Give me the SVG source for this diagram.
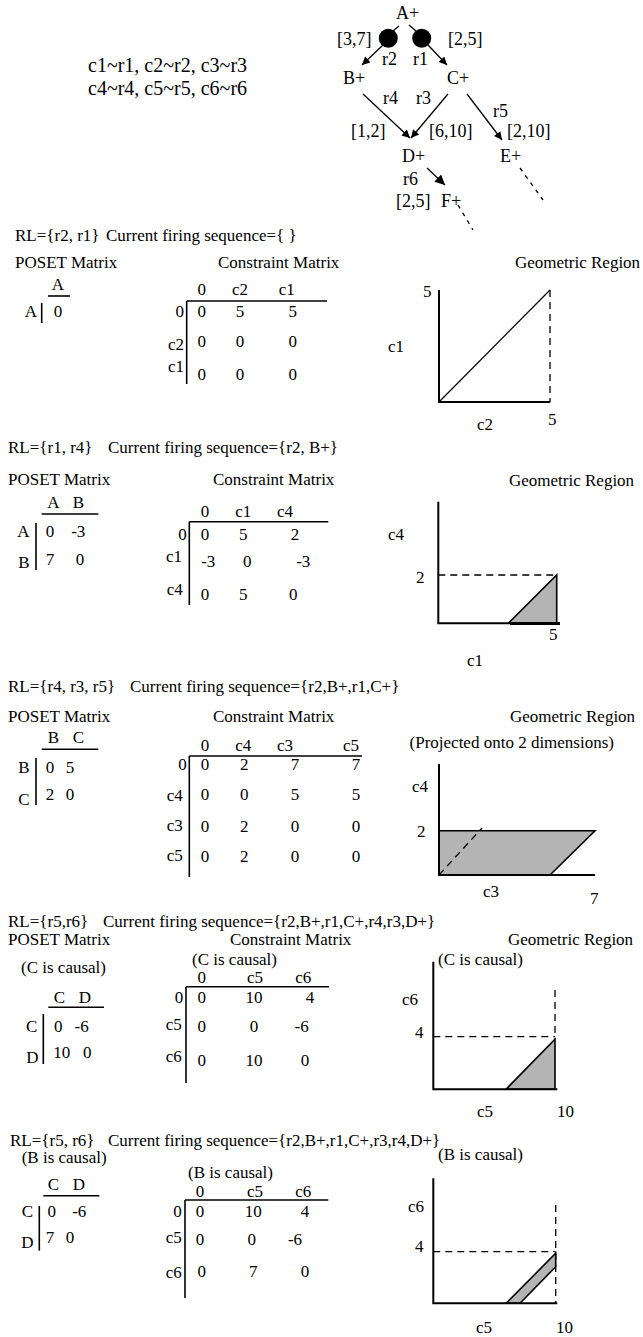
<svg xmlns="http://www.w3.org/2000/svg" width="643" height="1337" viewBox="0 0 643 1337">
<style>
text{font-family:"Liberation Serif","Times New Roman",serif;font-size:17px;fill:#000}
.g{font-size:18px}
.big{font-size:20px}
.m{text-anchor:middle}
.e{text-anchor:end}
.ln{stroke:#000;stroke-width:1.6;fill:none}
.ax{stroke:#000;stroke-width:2;fill:none}
.th{stroke:#000;stroke-width:1.2;fill:none}
.da{stroke:#000;stroke-width:1.3;fill:none;stroke-dasharray:7 5}
.reg{fill:#b4b4b4;stroke:#000;stroke-width:1.6}
.cn{stroke:#000;stroke-width:1.3;fill:none}
.cd{stroke:#000;stroke-width:1.3;fill:none;stroke-dasharray:4 5}
</style>
<defs>
<marker id="ah" viewBox="0 0 10 10" refX="10" refY="5" markerWidth="10" markerHeight="8" orient="auto" markerUnits="userSpaceOnUse"><path d="M0,0 L10,5 L0,10 z" fill="#000"/></marker>
<marker id="ahb" viewBox="0 0 10 10" refX="10" refY="5" markerWidth="14" markerHeight="10" orient="auto" markerUnits="userSpaceOnUse"><path d="M0,0 L10,5 L0,10 z" fill="#000"/></marker>
</defs>
<rect width="643" height="1337" fill="#fff"/>

<!-- legend -->
<text class="big" x="88" y="72">c1~r1, c2~r2, c3~r3</text>
<text class="big" x="88" y="95">c4~r4, c5~r5, c6~r6</text>

<!-- graph connectors -->
<g id="connectors">
<line class="cn" x1="399" y1="26" x2="393" y2="31"/>
<line class="cn" x1="409" y1="25" x2="416" y2="31"/>
<line class="cn" x1="383" y1="45" x2="362" y2="65" marker-end="url(#ah)"/>
<line class="cn" x1="428" y1="45" x2="447" y2="65" marker-end="url(#ah)"/>
<line class="cn" x1="363" y1="94" x2="410" y2="138" marker-end="url(#ah)"/>
<line class="cn" x1="448" y1="94" x2="411" y2="138" marker-end="url(#ah)"/>
<line class="cn" x1="467" y1="94" x2="502" y2="140" marker-end="url(#ah)"/>
<line class="cn" x1="427" y1="168" x2="445" y2="185" marker-end="url(#ahb)"/>
<line class="cd" x1="458" y1="205" x2="473" y2="230"/>
<line class="cd" x1="520" y1="168" x2="543" y2="200"/>
<text class="g" x="382" y="65">r2</text>
<text class="g" x="413" y="65">r1</text>
<text class="g" x="337" y="45">[3,7]</text>
<text class="g" x="448" y="45">[2,5]</text>
<text class="g" x="383" y="104">r4</text>
<text class="g" x="416" y="104">r3</text>
<text class="g" x="493" y="117">r5</text>
<text class="g" x="351" y="137">[1,2]</text>
<text class="g" x="429" y="137">[6,10]</text>
<text class="g" x="507" y="137">[2,10]</text>
<text class="g" x="403" y="185">r6</text>
<text class="g" x="396" y="207">[2,5]</text>
</g>
<g id="nA"><text class="g" x="396" y="19">A+</text></g>
<g id="dot1"><circle cx="388.3" cy="38.3" r="9.5" fill="#000"/></g>
<g id="dot2"><circle cx="421.7" cy="38.3" r="9.5" fill="#000"/></g>
<g id="nB"><text class="g" x="343" y="84">B+</text></g>
<g id="nC"><text class="g" x="447" y="84">C+</text></g>
<g id="nD"><text class="g" x="402" y="162">D+</text></g>
<g id="nE"><text class="g" x="500" y="162">E+</text></g>
<g id="nF"><text class="g" x="441" y="207">F+</text></g>

<!-- Section 1 -->
<g id="sec1">
<text x="15" y="241">RL={r2, r1}</text>
<text x="106" y="241">Current firing sequence={ }</text>
<text x="15" y="268">POSET Matrix</text>
<text x="218" y="268">Constraint Matrix</text>
<text x="515" y="268">Geometric Region</text>
<text class="m" x="58" y="290">A</text>
<line class="ln" x1="48" y1="296" x2="70" y2="296"/>
<text class="m" x="31" y="317">A</text>
<line class="ln" x1="41.7" y1="303" x2="41.7" y2="323"/>
<text class="m" x="58" y="317">0</text>
<text class="m" x="201.7" y="295">0</text>
<text class="m" x="240" y="295">c2</text>
<text class="m" x="286.7" y="295">c1</text>
<line class="ln" x1="186.7" y1="301" x2="327" y2="301"/>
<line class="ln" x1="186.7" y1="301" x2="186.7" y2="384"/>
<text class="e" x="184" y="317">0</text>
<text class="e" x="184" y="350">c2</text>
<text class="e" x="184" y="372">c1</text>
<text class="m" x="201.7" y="317">0</text><text class="m" x="240" y="317">5</text><text class="m" x="292.7" y="317">5</text>
<text class="m" x="201.7" y="347">0</text><text class="m" x="240" y="347">0</text><text class="m" x="292.7" y="347">0</text>
<text class="m" x="201.7" y="380">0</text><text class="m" x="240" y="380">0</text><text class="m" x="292.7" y="380">0</text>
<line class="th" x1="439" y1="402" x2="550" y2="290"/>
<line class="da" x1="550" y1="290" x2="550" y2="402"/>
<polyline class="ax" points="439,290 439,402 550,402"/>
<text x="423" y="297">5</text>
<text x="388" y="352">c1</text>
<text x="477" y="430">c2</text>
<text x="548" y="425">5</text>
</g>

<!-- Section 2 -->
<g id="sec2">
<text x="8" y="453">RL={r1, r4}</text>
<text x="108" y="453">Current firing sequence={r2, B+}</text>
<text x="8" y="485">POSET Matrix</text>
<text x="213" y="485">Constraint Matrix</text>
<text x="509" y="486">Geometric Region</text>
<text class="m" x="53.3" y="508">A</text><text class="m" x="78.3" y="508">B</text>
<line class="ln" x1="41.7" y1="514" x2="98.3" y2="514"/>
<text class="m" x="23.3" y="537">A</text>
<text class="m" x="24" y="568">B</text>
<line class="ln" x1="36" y1="523" x2="36" y2="570"/>
<text class="m" x="50" y="537">0</text><text class="m" x="78.3" y="537">-3</text>
<text class="m" x="50" y="565">7</text><text class="m" x="80" y="565">0</text>
<text class="m" x="205" y="517">0</text><text class="m" x="243.3" y="517">c1</text><text class="m" x="285" y="517">c4</text>
<line class="ln" x1="189.3" y1="521.7" x2="328.3" y2="521.7"/>
<line class="ln" x1="189.3" y1="521.7" x2="189.3" y2="605"/>
<text class="e" x="186.7" y="540">0</text>
<text class="e" x="182" y="562">c1</text>
<text class="e" x="182.7" y="595">c4</text>
<text class="m" x="205" y="540">0</text><text class="m" x="243.3" y="540">5</text><text class="m" x="295" y="540">2</text>
<text class="m" x="208.3" y="567">-3</text><text class="m" x="247.3" y="567">0</text><text class="m" x="303.3" y="567">-3</text>
<text class="m" x="205" y="600">0</text><text class="m" x="243.3" y="600">5</text><text class="m" x="293.3" y="600">0</text>
<polygon class="reg" points="508.3,623.3 556.7,575 556.7,623.3"/>
<line class="da" x1="438.3" y1="575" x2="556.7" y2="575"/>
<polyline class="ax" points="438.3,501.7 438.3,623.3 560,623.3"/>
<line stroke="#000" stroke-width="3" x1="510" y1="623.5" x2="560" y2="623.5"/>
<text x="388" y="540">c4</text>
<text x="416" y="583">2</text>
<text x="549" y="640">5</text>
<text x="467" y="666">c1</text>
</g>

<!-- Section 3 -->
<g id="sec3">
<text x="8" y="692">RL={r4, r3, r5}</text>
<text x="130" y="692">Current firing sequence={r2,B+,r1,C+}</text>
<text x="8" y="722">POSET Matrix</text>
<text x="213" y="722">Constraint Matrix</text>
<text x="510" y="722">Geometric Region</text>
<text class="e" x="614" y="748">(Projected onto 2 dimensions)</text>
<text class="m" x="53.3" y="743">B</text><text class="m" x="78.3" y="743">C</text>
<line class="ln" x1="41.7" y1="749.3" x2="98.3" y2="749.3"/>
<text class="m" x="24" y="773">B</text>
<text class="m" x="24" y="805">C</text>
<line class="ln" x1="36" y1="758" x2="36" y2="805"/>
<text class="m" x="50" y="773">0</text><text class="m" x="70" y="773">5</text>
<text class="m" x="50" y="800">2</text><text class="m" x="70" y="800">0</text>
<text class="m" x="205" y="751">0</text><text class="m" x="243.3" y="751">c4</text><text class="m" x="285" y="751">c3</text><text class="m" x="351" y="751">c5</text>
<line class="ln" x1="189.3" y1="756" x2="362" y2="756"/>
<line class="ln" x1="189.3" y1="756" x2="189.3" y2="877"/>
<text class="e" x="186.7" y="770">0</text>
<text class="e" x="182.7" y="801">c4</text>
<text class="e" x="182.7" y="831">c3</text>
<text class="e" x="182.7" y="861">c5</text>
<text class="m" x="205" y="770">0</text><text class="m" x="244.3" y="770">2</text><text class="m" x="295" y="770">7</text><text class="m" x="356" y="770">7</text>
<text class="m" x="205" y="800">0</text><text class="m" x="244.3" y="800">0</text><text class="m" x="295" y="800">5</text><text class="m" x="356" y="800">5</text>
<text class="m" x="205" y="832">0</text><text class="m" x="244.3" y="832">2</text><text class="m" x="295" y="832">0</text><text class="m" x="356" y="832">0</text>
<text class="m" x="205" y="862">0</text><text class="m" x="244.3" y="862">2</text><text class="m" x="295" y="862">0</text><text class="m" x="356" y="862">0</text>
<polygon class="reg" points="439,830.7 595,830.7 550,875 439,875"/>
<line class="da" x1="439" y1="875" x2="482" y2="828"/>
<polyline class="ax" points="439,764 439,875 595,875"/>
<text x="412" y="792">c4</text>
<text x="417" y="837">2</text>
<text x="483" y="897">c3</text>
<text x="590" y="904">7</text>
</g>

<!-- Section 4 -->
<g id="sec4">
<text x="8" y="927">RL={r5,r6}</text>
<text x="103" y="927">Current firing sequence={r2,B+,r1,C+,r4,r3,D+}</text>
<text x="8" y="945">POSET Matrix</text>
<text x="230" y="945">Constraint Matrix</text>
<text x="508" y="945">Geometric Region</text>
<text x="21" y="973">(C is causal)</text>
<text x="192" y="965">(C is causal)</text>
<text x="438" y="965">(C is causal)</text>
<text class="m" x="59.3" y="1003">C</text><text class="m" x="85" y="1003">D</text>
<line class="ln" x1="48.3" y1="1007.3" x2="104" y2="1007.3"/>
<text class="m" x="31.7" y="1032">C</text>
<text class="m" x="32.3" y="1063">D</text>
<line class="ln" x1="43.3" y1="1014" x2="43.3" y2="1064"/>
<text class="m" x="58.3" y="1032">0</text><text class="m" x="81.7" y="1032">-6</text>
<text class="m" x="61.7" y="1058">10</text><text class="m" x="87.3" y="1058">0</text>
<text class="m" x="201.7" y="983">0</text><text class="m" x="255" y="983">c5</text><text class="m" x="303.3" y="983">c6</text>
<line class="ln" x1="186" y1="986.7" x2="329" y2="986.7"/>
<line class="ln" x1="186" y1="986.7" x2="186" y2="1083"/>
<text class="e" x="183.3" y="1003">0</text>
<text class="e" x="181.7" y="1030">c5</text>
<text class="e" x="181.7" y="1062">c6</text>
<text class="m" x="201.7" y="1003">0</text><text class="m" x="254" y="1003">10</text><text class="m" x="310" y="1003">4</text>
<text class="m" x="201.7" y="1032">0</text><text class="m" x="254" y="1032">0</text><text class="m" x="301.7" y="1032">-6</text>
<text class="m" x="201.7" y="1066">0</text><text class="m" x="254" y="1066">10</text><text class="m" x="305" y="1066">0</text>
<polygon class="reg" points="506,1089.3 555,1039.3 555,1089.3"/>
<line class="da" x1="555" y1="990" x2="555" y2="1039"/>
<line class="da" x1="433.3" y1="1036.7" x2="555" y2="1036.7"/>
<polyline class="ax" points="433.3,961.7 433.3,1089.3 557.3,1089.3"/>
<text x="402" y="1005">c6</text>
<text x="415" y="1038">4</text>
<text x="477" y="1117">c5</text>
<text x="557" y="1117">10</text>
</g>

<!-- Section 5 -->
<g id="sec5">
<text x="10" y="1146">RL={r5, r6}</text>
<text x="108" y="1146">Current firing sequence={r2,B+,r1,C+,r3,r4,D+}</text>
<text x="21.7" y="1163">(B is causal)</text>
<text x="188" y="1178">(B is causal)</text>
<text x="438" y="1160">(B is causal)</text>
<text class="m" x="53.3" y="1190">C</text><text class="m" x="79" y="1190">D</text>
<line class="ln" x1="43.3" y1="1195.7" x2="99.3" y2="1195.7"/>
<text class="m" x="27.3" y="1217">C</text>
<text class="m" x="27.3" y="1248">D</text>
<line class="ln" x1="39.3" y1="1206" x2="39.3" y2="1250.7"/>
<text class="m" x="51.7" y="1217">0</text><text class="m" x="79.3" y="1217">-6</text>
<text class="m" x="50" y="1243">7</text><text class="m" x="70" y="1243">0</text>
<text class="m" x="200" y="1197">0</text><text class="m" x="255" y="1197">c5</text><text class="m" x="303.3" y="1197">c6</text>
<line class="ln" x1="185" y1="1200" x2="328.3" y2="1200"/>
<line class="ln" x1="185" y1="1200" x2="185" y2="1298"/>
<text class="e" x="181.7" y="1217">0</text>
<text class="e" x="181.7" y="1243">c5</text>
<text class="e" x="181.7" y="1278">c6</text>
<text class="m" x="200" y="1217">0</text><text class="m" x="253.3" y="1217">10</text><text class="m" x="305" y="1217">4</text>
<text class="m" x="200" y="1245">0</text><text class="m" x="251.7" y="1245">0</text><text class="m" x="295" y="1245">-6</text>
<text class="m" x="201.7" y="1277">0</text><text class="m" x="253.3" y="1277">7</text><text class="m" x="305" y="1277">0</text>
<polygon class="reg" points="506,1303.3 555.7,1253.3 555.7,1266.7 520,1303.3"/>
<line class="da" x1="555.7" y1="1205" x2="555.7" y2="1303"/>
<line class="da" x1="433.3" y1="1251.7" x2="555.7" y2="1251.7"/>
<polyline class="ax" points="433.3,1178.3 433.3,1303.3 557.3,1303.3"/>
<text x="408" y="1212">c6</text>
<text x="415" y="1252">4</text>
<text x="476" y="1333">c5</text>
<text x="556" y="1333">10</text>
</g>
</svg>
